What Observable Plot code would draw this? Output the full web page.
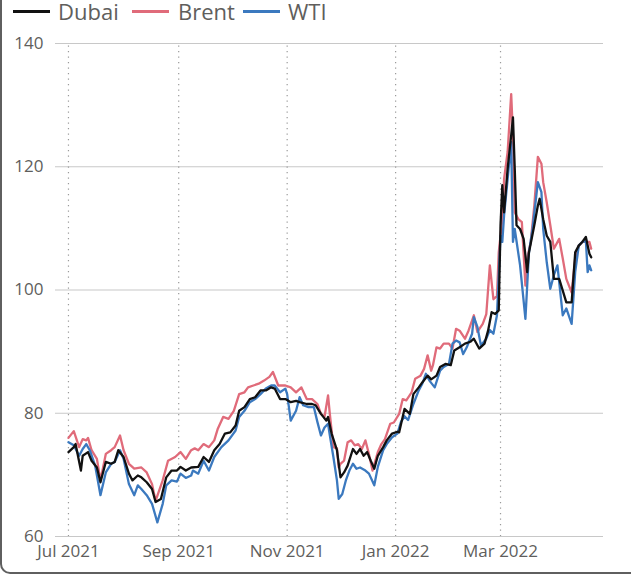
<!DOCTYPE html>
<html>
<head>
<meta charset="utf-8">
<script src="https://cdn.jsdelivr.net/npm/d3@7"></script>
<script src="https://cdn.jsdelivr.net/npm/@observablehq/plot@0.6"></script>
<style>
  html, body { margin: 0; padding: 0; background: #fff; }
  #wrap { position: relative; width: 631px; height: 576px; overflow: hidden; }
  #frame { position: absolute; left: 0; top: -20px; width: 660px; height: 594px; box-sizing: border-box;
           border-left: 2px solid #5f5f5f; border-bottom: 2px solid #5f5f5f; border-bottom-left-radius: 10px; pointer-events: none; }
  #legend { position: absolute; left: 0; top: 0; width: 631px; height: 26px; font-family: "Open Sans", sans-serif; font-size: 22px; color: #605e5c; }
  .item { position: absolute; top: 0px; line-height: 22px; white-space: nowrap; }
  .sw { position: absolute; top: 10px; height: 3px; }
  #chart { position: absolute; left: 0; top: 0; }
</style>
</head>
<body>
<div id="wrap">
  <div id="chart"></div>
  <div id="legend"></div>
  <div id="frame"></div>
</div>
<script>
// Series names and colours
const seriesNames = ["Dubai", "Brent", "WTI"];
const seriesColors = ["#111111", "#e06b7a", "#3b79bf"];

// Axis ticks
const yTicks = [60, 80, 100, 120, 140];
const xTickLabels = ["2021-07-01", "2021-09-01", "2021-11-01", "2022-01-01", "2022-03-01"];

// Prices (USD / barrel)
const dubai = [
["2021-07-01",73.7],["2021-07-04",74.5],["2021-07-05",75.0],["2021-07-08",70.7],["2021-07-09",73.1],
["2021-07-12",73.7],["2021-07-14",72.3],["2021-07-17",71.2],["2021-07-19",68.8],["2021-07-22",72.1],
["2021-07-25",71.8],["2021-07-27",72.1],["2021-07-29",74.0],["2021-08-01",72.9],["2021-08-04",70.2],
["2021-08-06",69.1],["2021-08-09",69.9],["2021-08-11",69.6],["2021-08-14",68.8],["2021-08-17",67.7],
["2021-08-19",65.6],["2021-08-22",66.1],["2021-08-25",69.6],["2021-08-28",70.7],["2021-08-31",70.7],
["2021-09-02",71.3],["2021-09-05",70.7],["2021-09-08",71.2],["2021-09-12",71.3],["2021-09-15",72.9],
["2021-09-18",72.1],["2021-09-21",74.0],["2021-09-24",75.0],["2021-09-27",76.7],["2021-09-30",76.9],
["2021-10-03",78.0],["2021-10-05",80.4],["2021-10-08",81.0],["2021-10-11",82.3],["2021-10-14",82.6],
["2021-10-17",83.7],["2021-10-20",83.7],["2021-10-23",84.2],["2021-10-25",84.0],["2021-10-28",82.3],
["2021-10-31",82.3],["2021-11-03",81.8],["2021-11-06",82.0],["2021-11-08",81.8],["2021-11-12",81.5],
["2021-11-15",81.5],["2021-11-17",81.3],["2021-11-20",79.9],["2021-11-23",78.8],["2021-11-24",79.4],
["2021-11-26",76.7],["2021-11-29",74.0],["2021-12-01",69.6],["2021-12-03",70.4],["2021-12-05",71.5],
["2021-12-08",74.2],["2021-12-10",73.4],["2021-12-12",74.2],["2021-12-14",73.1],["2021-12-16",73.7],
["2021-12-18",72.3],["2021-12-20",71.0],["2021-12-22",73.1],["2021-12-25",74.5],["2021-12-27",75.6],
["2021-12-30",76.7],["2022-01-02",77.0],["2022-01-03",76.9],["2022-01-06",80.7],["2022-01-09",79.9],
["2022-01-11",83.1],["2022-01-14",84.2],["2022-01-16",85.0],["2022-01-19",86.1],["2022-01-21",85.5],
["2022-01-24",86.1],["2022-01-26",87.5],["2022-01-29",88.0],["2022-02-01",87.8],["2022-02-03",90.2],
["2022-02-06",90.7],["2022-02-09",91.3],["2022-02-12",91.6],["2022-02-14",92.1],["2022-02-17",90.5],
["2022-02-20",91.3],["2022-02-22",93.4],["2022-02-24",96.4],["2022-02-26",96.1],["2022-02-28",96.7],
["2022-03-01",110.5],["2022-03-02",117.0],["2022-03-03",112.6],["2022-03-05",119.7],["2022-03-07",125.1],
["2022-03-08",128.0],["2022-03-09",119.7],["2022-03-10",110.5],["2022-03-12",109.9],["2022-03-14",108.3],
["2022-03-16",102.9],["2022-03-17",106.1],["2022-03-20",110.5],["2022-03-22",113.7],["2022-03-23",114.8],
["2022-03-25",111.5],["2022-03-27",108.8],["2022-03-29",107.8],["2022-03-31",101.8],["2022-04-03",101.8],
["2022-04-07",98.0],["2022-04-10",98.0],["2022-04-12",106.1],["2022-04-14",107.2],["2022-04-16",107.8],
["2022-04-18",108.6],["2022-04-20",105.9],["2022-04-21",105.3]
];

const brent = [
["2021-07-01",76.0],["2021-07-04",77.1],["2021-07-07",74.5],["2021-07-09",75.8],["2021-07-11",75.6],
["2021-07-12",76.0],["2021-07-14",74.0],["2021-07-17",72.6],["2021-07-19",69.1],["2021-07-22",73.4],
["2021-07-25",74.0],["2021-07-27",74.5],["2021-07-30",76.4],["2021-08-01",74.0],["2021-08-04",71.8],
["2021-08-07",71.0],["2021-08-11",71.2],["2021-08-14",70.4],["2021-08-17",68.5],["2021-08-19",65.8],
["2021-08-23",69.1],["2021-08-26",72.3],["2021-08-30",72.9],["2021-09-02",73.7],["2021-09-05",72.6],
["2021-09-08",74.0],["2021-09-10",74.3],["2021-09-12",74.0],["2021-09-15",75.0],["2021-09-18",74.5],
["2021-09-21",75.6],["2021-09-23",77.5],["2021-09-26",79.4],["2021-09-29",79.1],["2021-10-02",80.4],
["2021-10-05",83.1],["2021-10-08",83.4],["2021-10-10",84.2],["2021-10-13",84.5],["2021-10-16",84.8],
["2021-10-19",85.3],["2021-10-22",85.9],["2021-10-24",86.7],["2021-10-27",84.5],["2021-10-31",84.5],
["2021-11-03",84.2],["2021-11-06",83.4],["2021-11-09",84.2],["2021-11-12",82.3],["2021-11-15",82.3],
["2021-11-18",81.5],["2021-11-20",79.9],["2021-11-22",79.4],["2021-11-24",82.9],["2021-11-25",79.9],
["2021-11-27",74.5],["2021-11-29",74.3],["2021-11-30",71.2],["2021-12-01",71.8],["2021-12-03",72.3],
["2021-12-05",75.3],["2021-12-07",75.6],["2021-12-09",74.8],["2021-12-11",75.0],["2021-12-13",74.2],
["2021-12-15",75.6],["2021-12-17",73.4],["2021-12-19",70.7],["2021-12-22",73.7],["2021-12-24",75.0],
["2021-12-26",75.8],["2021-12-29",78.3],["2021-12-31",78.5],["2022-01-03",79.9],["2022-01-05",82.3],
["2022-01-07",82.1],["2022-01-10",83.4],["2022-01-12",85.6],["2022-01-15",86.1],["2022-01-17",87.2],
["2022-01-19",89.4],["2022-01-21",86.9],["2022-01-22",87.8],["2022-01-24",90.7],["2022-01-26",90.5],
["2022-01-28",91.3],["2022-01-31",91.3],["2022-02-02",90.5],["2022-02-04",93.7],["2022-02-06",93.4],
["2022-02-09",92.1],["2022-02-11",93.4],["2022-02-14",95.9],["2022-02-16",93.2],["2022-02-19",94.5],
["2022-02-21",96.1],["2022-02-23",104.0],["2022-02-25",98.5],["2022-02-27",99.0],["2022-02-28",106.1],
["2022-03-02",111.5],["2022-03-03",118.0],["2022-03-05",122.4],["2022-03-07",131.8],["2022-03-08",125.1],
["2022-03-09",112.6],["2022-03-11",111.5],["2022-03-13",111.0],["2022-03-15",100.7],["2022-03-16",105.1],
["2022-03-18",107.8],["2022-03-20",113.7],["2022-03-22",121.6],["2022-03-24",120.5],["2022-03-25",117.5],
["2022-03-27",114.2],["2022-03-29",110.5],["2022-03-31",106.7],["2022-04-03",108.3],["2022-04-05",105.1],
["2022-04-07",101.8],["2022-04-10",99.6],["2022-04-12",105.1],["2022-04-14",107.2],["2022-04-16",107.8],
["2022-04-20",107.8],["2022-04-21",106.7]
];

const wti = [
["2021-07-01",75.3],["2021-07-04",74.8],["2021-07-07",73.1],["2021-07-09",74.2],["2021-07-11",75.0],
["2021-07-13",74.0],["2021-07-16",71.5],["2021-07-19",66.7],["2021-07-22",70.4],["2021-07-25",71.8],
["2021-07-27",72.1],["2021-07-30",74.0],["2021-08-01",72.6],["2021-08-04",68.5],["2021-08-07",66.7],
["2021-08-09",68.3],["2021-08-11",67.7],["2021-08-14",66.7],["2021-08-17",65.3],["2021-08-20",62.3],
["2021-08-23",65.3],["2021-08-25",68.3],["2021-08-28",69.1],["2021-08-31",68.9],["2021-09-02",70.2],
["2021-09-05",69.5],["2021-09-08",69.9],["2021-09-09",70.7],["2021-09-12",70.2],["2021-09-15",72.3],
["2021-09-18",70.7],["2021-09-21",72.9],["2021-09-25",74.5],["2021-09-29",75.6],["2021-10-03",77.2],
["2021-10-05",79.4],["2021-10-08",80.4],["2021-10-11",81.8],["2021-10-14",82.3],["2021-10-17",83.1],
["2021-10-20",84.0],["2021-10-23",84.5],["2021-10-25",84.5],["2021-10-28",83.4],["2021-10-31",84.0],
["2021-11-01",83.1],["2021-11-03",78.8],["2021-11-06",80.4],["2021-11-08",82.6],["2021-11-10",81.3],
["2021-11-13",81.0],["2021-11-16",81.0],["2021-11-18",78.6],["2021-11-20",76.4],["2021-11-22",77.7],
["2021-11-24",78.3],["2021-11-25",76.4],["2021-11-27",72.9],["2021-11-29",69.1],["2021-11-30",66.1],
["2021-12-02",66.9],["2021-12-04",69.1],["2021-12-06",70.7],["2021-12-08",71.8],["2021-12-10",71.0],
["2021-12-12",71.2],["2021-12-15",70.7],["2021-12-17",70.2],["2021-12-20",68.3],["2021-12-22",71.3],
["2021-12-25",74.0],["2021-12-27",75.0],["2021-12-30",76.1],["2022-01-02",76.7],["2022-01-04",78.6],
["2022-01-06",79.5],["2022-01-08",78.9],["2022-01-11",81.5],["2022-01-14",83.7],["2022-01-16",84.8],
["2022-01-18",86.4],["2022-01-20",85.3],["2022-01-23",84.2],["2022-01-26",86.9],["2022-01-28",87.5],
["2022-01-31",88.0],["2022-02-02",91.3],["2022-02-04",91.8],["2022-02-06",91.5],["2022-02-08",89.6],
["2022-02-10",90.7],["2022-02-13",92.9],["2022-02-14",95.6],["2022-02-16",94.0],["2022-02-18",91.0],
["2022-02-21",92.1],["2022-02-23",93.5],["2022-02-25",92.9],["2022-02-27",95.9],["2022-03-01",108.8],
["2022-03-02",107.8],["2022-03-03",112.1],["2022-03-05",118.0],["2022-03-07",124.0],["2022-03-08",107.8],
["2022-03-09",109.9],["2022-03-12",104.0],["2022-03-15",95.3],["2022-03-17",106.1],["2022-03-19",109.9],
["2022-03-22",117.5],["2022-03-24",115.9],["2022-03-25",109.9],["2022-03-27",104.5],["2022-03-29",100.2],
["2022-03-31",102.4],["2022-04-02",104.0],["2022-04-05",95.9],["2022-04-07",97.0],["2022-04-10",94.5],
["2022-04-12",102.9],["2022-04-14",107.2],["2022-04-16",107.8],["2022-04-18",108.0],["2022-04-19",102.9],
["2022-04-20",104.0],["2022-04-21",103.2]
];

// Build table for Plot
const parse = d3.utcParse("%Y-%m-%d");
const seriesData = [dubai, brent, wti];
const rows = [];
// draw order: Brent, WTI, Dubai (Dubai on top)
[1, 2, 0].forEach(i => {
  seriesData[i].forEach(([d, v]) => rows.push({series: seriesNames[i], date: parse(d), value: v}));
});

const chart = Plot.plot({
  width: 631,
  height: 576,
  marginTop: 43,
  marginBottom: 40,
  marginLeft: 55,
  marginRight: 28,
  style: {fontFamily: "'Open Sans', sans-serif", fontSize: "17px", color: "#605e5c", background: "transparent", overflow: "visible"},
  x: {type: "utc", domain: [new Date(Date.UTC(2021, 5, 23, 17)), new Date(Date.UTC(2022, 3, 27, 22))]},
  y: {domain: [60, 140]},
  color: {domain: seriesNames, range: seriesColors},
  marks: [
    Plot.ruleY(yTicks, {stroke: "#c8c8c8", strokeWidth: 1.2}),
    Plot.ruleX(xTickLabels.map(parse), {stroke: "#9a9a9a", strokeWidth: 1.2, strokeDasharray: "1.2,4.3", y1: 139.6, y2: 60}),
    Plot.line(rows, {x: "date", y: "value", z: "series", stroke: "series", strokeWidth: 2.3, strokeLinejoin: "round"}),
    Plot.axisY(yTicks, {tickSize: 0, tickPadding: 12, label: null, fontSize: 17}),
    Plot.axisX(xTickLabels.map(parse), {tickSize: 0, tickPadding: 8, label: null, fontSize: 17, tickFormat: d3.utcFormat("%b %Y")})
  ]
});
document.getElementById("chart").appendChild(chart);

// Legend
const legendPos = [{sw: 13, tx: 58}, {sw: 132, tx: 178}, {sw: 243, tx: 288}];
const legend = document.getElementById("legend");
seriesNames.forEach((name, i) => {
  const sw = document.createElement("div");
  sw.className = "sw";
  sw.style.left = legendPos[i].sw + "px";
  sw.style.width = "37px";
  sw.style.background = seriesColors[i];
  legend.appendChild(sw);
  const t = document.createElement("div");
  t.className = "item";
  t.style.left = legendPos[i].tx + "px";
  t.textContent = name;
  legend.appendChild(t);
});
</script>
</body>
</html>
